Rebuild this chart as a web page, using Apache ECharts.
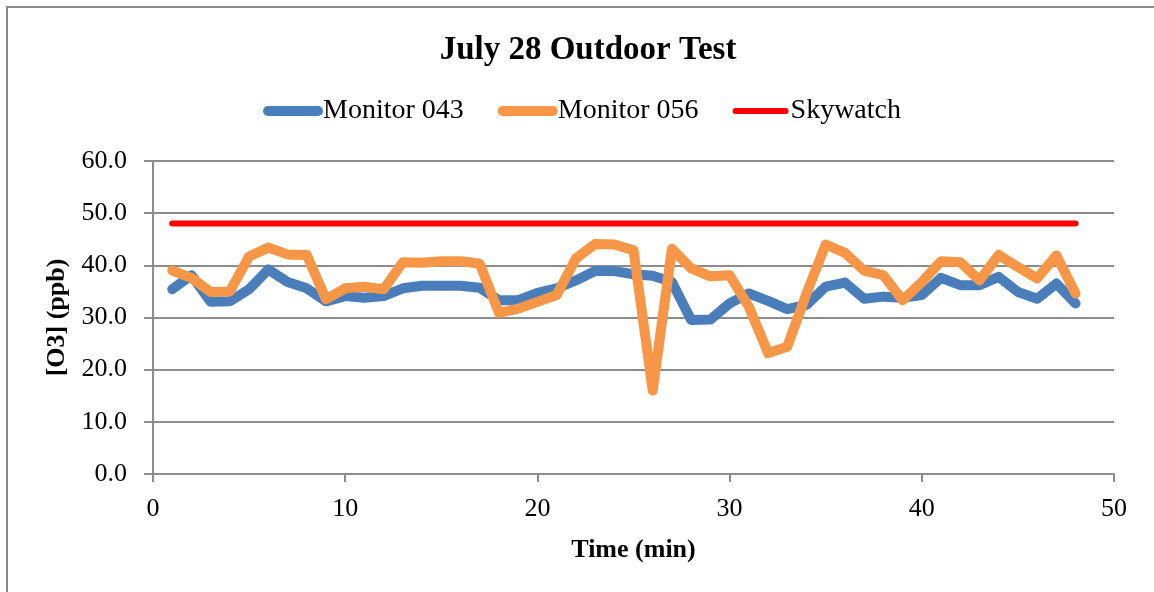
<!DOCTYPE html>
<html>
<head>
<meta charset="utf-8">
<script src="https://cdn.jsdelivr.net/npm/echarts@6/dist/echarts.min.js"></script>
<style>
  html, body { margin: 0; padding: 0; background: #fff; }
  #chart { width: 1154px; height: 592px; }
</style>
</head>
<body>
<div id="chart"></div>
<script>
// 时间 (min)
var timeMin = [1, 2, 3, 4, 5, 6, 7, 8, 9, 10, 11, 12, 13, 14, 15, 16, 17, 18, 19, 20, 21, 22, 23, 24,
  25, 26, 27, 28, 29, 30, 31, 32, 33, 34, 35, 36, 37, 38, 39, 40, 41, 42, 43, 44, 45, 46, 47, 48];

var monitor043 = [35.4, 38.1, 33.0, 33.1, 35.4, 39.2, 36.8, 35.6, 33.1, 34.1, 33.8, 34.1,
  35.6, 36.1, 36.1, 36.1, 35.7, 33.3, 33.3, 34.7, 35.6, 37.1, 38.9, 38.9,
  38.3, 38.0, 36.8, 29.5, 29.6, 32.7, 34.6, 33.2, 31.6, 32.4, 35.9, 36.7,
  33.6, 34.0, 33.8, 34.3, 37.6, 36.2, 36.2, 37.8, 34.9, 33.6, 36.5, 32.7];

var monitor056 = [39.0, 37.6, 34.9, 35.0, 41.7, 43.4, 42.1, 42.0, 33.5, 35.6, 35.9, 35.4,
  40.6, 40.5, 40.8, 40.8, 40.3, 30.9, 31.7, 33.0, 34.3, 41.3, 44.1, 44.0,
  42.9, 16.0, 43.2, 39.4, 37.9, 38.1, 32.1, 23.2, 24.4, 34.6, 44.0, 42.4,
  39.0, 38.1, 33.3, 36.8, 40.8, 40.6, 37.1, 42.0, 39.7, 37.5, 41.9, 34.6];

var skywatch = timeMin.map(function () { return 48.0; });

var seriesNames = ['Monitor 043', 'Monitor 056', 'Skywatch'];

function pairs(values) {
  var out = [];
  for (var i = 0; i < timeMin.length; i++) {
    out.push([timeMin[i], values[i]]);
  }
  return out;
}

var FONT = 'Liberation Serif';
var GRID_COLOR = '#8c8c8c';

var myChart = echarts.init(document.getElementById('chart'));

var option = {
  animation: false,
  backgroundColor: '#fff',
  graphic: [{
    type: 'rect',
    shape: { x: 7, y: 7, width: 1170, height: 600 },
    style: { fill: 'none', stroke: '#8a8a8a', lineWidth: 2 },
    silent: true
  }],
  title: {
    text: 'July 28 Outdoor Test',
    left: 583,
    textAlign: 'center',
    top: 29,
    textStyle: { fontFamily: FONT, fontWeight: 'bold', fontSize: 33, color: '#000' }
  },
  legend: {
    left: 258,
    top: 92,
    width: 850,
    itemWidth: 50,
    itemHeight: 10,
    itemGap: 34,
    textStyle: { fontFamily: FONT, fontSize: 28, color: '#000' },
    data: [
      { name: seriesNames[0], itemStyle: { opacity: 0 }, lineStyle: { width: 10, cap: 'round' } },
      { name: seriesNames[1], itemStyle: { opacity: 0 }, lineStyle: { width: 10, cap: 'round' } },
      { name: seriesNames[2], itemStyle: { opacity: 0 }, lineStyle: { width: 6, cap: 'round' } }
    ]
  },
  grid: {
    left: 153,
    right: 40,
    top: 161,
    bottom: 118
  },
  xAxis: {
    type: 'value',
    min: 0,
    max: 50,
    interval: 10,
    name: 'Time (min)',
    nameLocation: 'middle',
    nameGap: 63,
    nameTextStyle: { fontFamily: FONT, fontWeight: 'bold', fontSize: 26, color: '#000' },
    axisLine: { show: true, onZero: false, lineStyle: { color: GRID_COLOR, width: 2 } },
    axisTick: { show: true, length: 8, lineStyle: { color: GRID_COLOR, width: 2 } },
    axisLabel: { fontFamily: FONT, fontSize: 26, color: '#000', margin: 22 },
    splitLine: { show: false }
  },
  yAxis: {
    type: 'value',
    min: 0,
    max: 60,
    interval: 10,
    name: '[O3] (ppb)',
    nameLocation: 'middle',
    nameGap: 81,
    nameTextStyle: { fontFamily: FONT, fontWeight: 'bold', fontSize: 26, color: '#000' },
    axisLine: { show: true, lineStyle: { color: GRID_COLOR, width: 2 } },
    axisTick: { show: true, length: 9, lineStyle: { color: GRID_COLOR, width: 2 } },
    axisLabel: {
      fontFamily: FONT, fontSize: 26, color: '#000', margin: 26,
      formatter: function (v) { return v.toFixed(1); }
    },
    splitLine: { show: true, lineStyle: { color: GRID_COLOR, width: 2 } }
  },
  series: [
    {
      name: seriesNames[0],
      type: 'line',
      symbol: 'none',
      color: '#4a7ebb',
      lineStyle: { width: 10, color: '#4a7ebb', cap: 'round', join: 'round' },
      data: pairs(monitor043)
    },
    {
      name: seriesNames[1],
      type: 'line',
      symbol: 'none',
      color: '#f79646',
      lineStyle: { width: 10, color: '#f79646', cap: 'round', join: 'round' },
      data: pairs(monitor056)
    },
    {
      name: seriesNames[2],
      type: 'line',
      symbol: 'none',
      color: '#ff0000',
      lineStyle: { width: 6, color: '#ff0000', cap: 'round', join: 'round' },
      data: pairs(skywatch)
    }
  ]
};

myChart.setOption(option);
</script>
</body>
</html>
